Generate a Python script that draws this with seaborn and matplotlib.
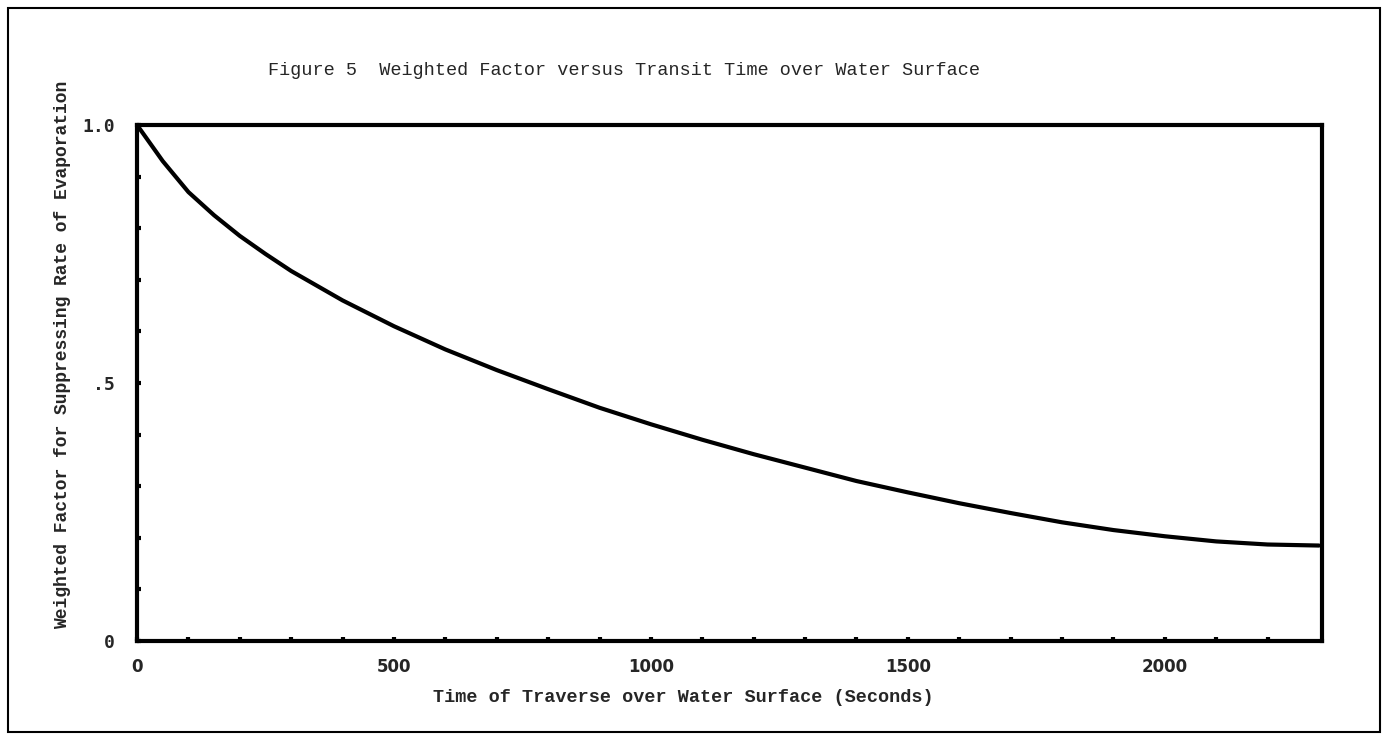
import numpy as np
import pandas as pd
import seaborn as sns
import matplotlib.pyplot as plt
from matplotlib.patches import Rectangle

# 곡선 값
time_sec = [0, 50, 100, 150, 200, 250, 300, 400, 500, 600, 700, 800, 900, 1000,
            1100, 1200, 1300, 1400, 1500, 1600, 1700, 1800, 1900, 2000, 2100, 2200, 2300]
weight = [1.0, 0.93, 0.87, 0.825, 0.785, 0.75, 0.717, 0.66, 0.61, 0.565, 0.525, 0.488,
          0.452, 0.42, 0.39, 0.362, 0.336, 0.31, 0.288, 0.267, 0.248, 0.23, 0.215,
          0.203, 0.193, 0.187, 0.185]

x_ticks = [0, 500, 1000, 1500, 2000]
x_tick_labels = ["0", "500", "1000", "1500", "2000"]
y_ticks = [0, 0.5, 1.0]
y_tick_labels = ["0", ".5", "1.0"]

df = pd.DataFrame({"time": time_sec, "weight": weight})

sns.set_style("white")
plt.rcParams["font.family"] = ["Liberation Mono", "DejaVu Sans Mono"]

fig = plt.figure(figsize=(13.87, 7.39), dpi=100)
ax = fig.add_axes([0.0988, 0.1326, 0.8544, 0.6983])

sns.lineplot(data=df, x="time", y="weight", color="black", linewidth=3, ax=ax)

ax.set_xlim(0, 2306)
ax.set_ylim(0, 1.0)
ax.set_xticks(x_ticks)
ax.set_xticklabels(x_tick_labels, family="DejaVu Sans", fontweight="bold", fontsize=12)
ax.set_yticks(y_ticks)
ax.set_yticklabels(y_tick_labels, family="DejaVu Sans Mono", fontweight="bold", fontsize=13)
ax.set_xticks(np.arange(100, 2201, 100), minor=True)
ax.set_yticks(np.arange(0.1, 1.0, 0.1), minor=True)
# 축 위의 작은 눈금 점
ax.tick_params(axis="both", which="both", direction="in", length=3, width=3,
               color="black", bottom=True, left=True)
ax.tick_params(axis="x", which="major", pad=12)
ax.tick_params(axis="y", which="major", pad=16)
for s in ax.spines.values():
    s.set_linewidth(3)
    s.set_color("black")
ax.set_xlabel("")
ax.set_ylabel("")

fig.text(0.45, 0.905, "Figure 5  Weighted Factor versus Transit Time over Water Surface",
         ha="center", va="center", fontsize=13.3)
fig.text(0.4925, 0.056, "Time of Traverse over Water Surface (Seconds)",
         ha="center", va="center", fontsize=13.3, fontweight="bold")
fig.text(0.045, 0.52, "Weighted Factor for Suppressing Rate of Evaporation",
         ha="center", va="center", rotation=90, fontsize=13, fontweight="bold")

# 바깥 테두리
fig.patches.append(Rectangle((0.006, 0.01), 0.989, 0.979, transform=fig.transFigure,
                             fill=False, edgecolor="black", linewidth=1.5))

fig.savefig("out.png", dpi=100)
